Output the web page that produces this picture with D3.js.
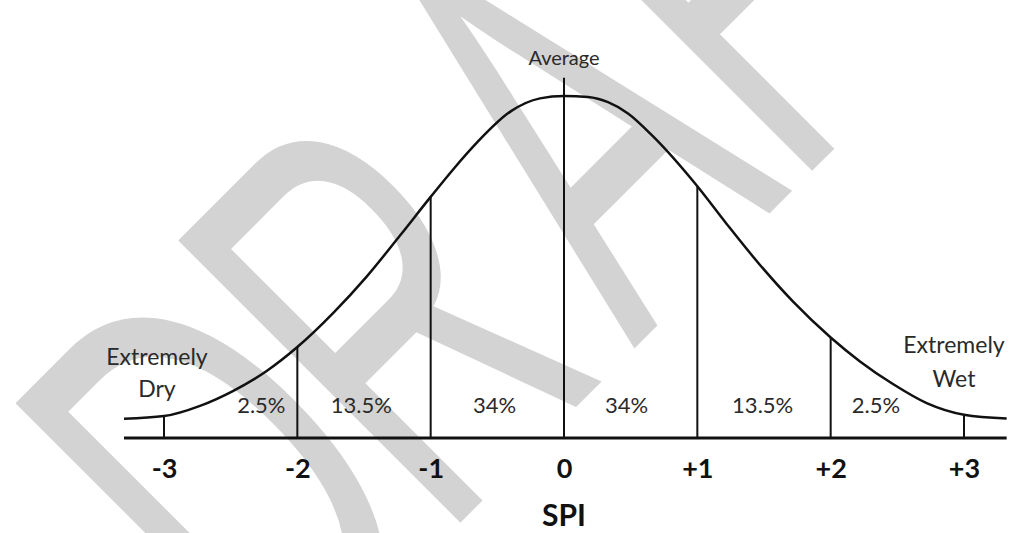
<!DOCTYPE html>
<html><head><meta charset="utf-8">
<script src="https://cdn.jsdelivr.net/npm/d3@7"></script>
<style>body{margin:0;background:#fff;overflow:hidden}</style>
</head><body><svg id="c" width="1011" height="533"></svg>
<script>
// ---- data ----
const curveX = [-3.3, -3, -2.73, -2.48, -2.23, -2, -1.73, -1.48, -1.23, -1, -0.83, -0.65, -0.4, -0.18, 0, 0.18, 0.33, 0.48, 0.67, 1, 1.22, 1.47, 1.72, 2, 2.22, 2.47, 2.72, 3, 3.32];
const curveH = [0.056, 0.064, 0.094, 0.138, 0.196, 0.266, 0.366, 0.472, 0.592, 0.705, 0.786, 0.865, 0.955, 0.993, 1.0, 0.997, 0.982, 0.949, 0.881, 0.736, 0.626, 0.506, 0.398, 0.294, 0.224, 0.157, 0.102, 0.068, 0.057];
const tickValues = [-3, -2, -1, 0, 1, 2, 3];
const tickLabels = ["-3", "-2", "-1", "0", "+1", "+2", "+3"];
const bandLabels = ["2.5%", "13.5%", "34%", "34%", "13.5%", "2.5%"];
const bandLabelX = [-2.27, -1.52, -0.52, 0.47, 1.49, 2.34];
const averageLineH = 1.053;
const averageLabel = "Average";
const leftLabel = ["Extremely", "Dry"];
const rightLabel = ["Extremely", "Wet"];
const axisTitle = "SPI";
const watermark = "DRAFT";

const svg = d3.select("#c");
const x = d3.scaleLinear().domain([-3, 3]).range([164, 964]);
const y = d3.scaleLinear().domain([0, 1]).range([438, 96]);
const pts = curveX.map((v, i) => [v, curveH[i]]);
const txtFont = "Lato, 'Open Sans', sans-serif";

// watermark
svg.append("text")
  .attr("transform", "translate(290,693) rotate(-45) scale(0.58,1)")
  .attr("font-family", "'Liberation Sans', Arial, sans-serif")
  .attr("font-size", 580)
  .attr("fill", "#d3d3d3")
  .attr("dx", "-29 -22 52 0 0")
  .text(watermark);

// baseline
svg.append("line")
  .attr("x1", x(curveX[0])).attr("x2", x(curveX[curveX.length - 1]))
  .attr("y1", y(0)).attr("y2", y(0))
  .attr("stroke", "#111").attr("stroke-width", 3);

// vertical lines
svg.append("g").selectAll("line").data(tickValues).join("line")
  .attr("x1", d => x(d)).attr("x2", d => x(d))
  .attr("y1", y(0))
  .attr("y2", d => y(d === 0 ? averageLineH : curveH[curveX.indexOf(d)]))
  .attr("stroke", "#111").attr("stroke-width", 2);

// curve
svg.append("path")
  .datum(pts)
  .attr("d", d3.line().x(d => x(d[0])).y(d => y(d[1])).curve(d3.curveMonotoneX))
  .attr("fill", "none").attr("stroke", "#111").attr("stroke-width", 2.5);

// axis labels
const axis = d3.axisBottom(x).tickValues(tickValues)
  .tickFormat((d, i) => tickLabels[i]).tickSize(0).tickPadding(21);
const ag = svg.append("g").attr("transform", `translate(0,${y(0)})`).call(axis);
ag.select(".domain").remove();
ag.selectAll("text").attr("font-family", txtFont).attr("font-weight", "bold")
  .attr("font-size", 27).attr("fill", "#111");

// band labels
svg.append("g").selectAll("text").data(bandLabels).join("text")
  .attr("x", (d, i) => x(bandLabelX[i])).attr("y", 413)
  .attr("text-anchor", "middle").attr("font-family", txtFont)
  .attr("font-size", 22).attr("fill", "#2a2a2a").text(d => d);

// average label
svg.append("text").attr("x", x(0)).attr("y", 65).attr("text-anchor", "middle")
  .attr("font-family", txtFont).attr("font-size", 20).attr("fill", "#2a2a2a").text(averageLabel);

// side labels
svg.append("g").selectAll("text").data(leftLabel).join("text")
  .attr("x", 157).attr("y", (d, i) => 365 + i * 32).attr("text-anchor", "middle")
  .attr("font-family", txtFont).attr("font-size", 23).attr("fill", "#2a2a2a").text(d => d);
svg.append("g").selectAll("text").data(rightLabel).join("text")
  .attr("x", 954).attr("y", (d, i) => 353 + i * 34).attr("text-anchor", "middle")
  .attr("font-family", txtFont).attr("font-size", 23).attr("fill", "#2a2a2a").text(d => d);

// axis title
svg.append("text").attr("x", x(0)).attr("y", 526).attr("text-anchor", "middle")
  .attr("font-family", txtFont).attr("font-weight", "bold").attr("font-size", 30)
  .attr("fill", "#111").text(axisTitle);
</script></body></html>
